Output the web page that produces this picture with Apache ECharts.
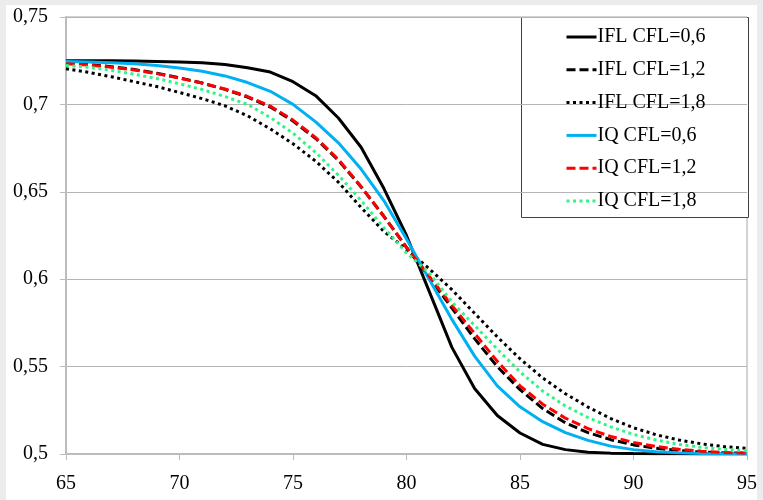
<!DOCTYPE html>
<html>
<head>
<meta charset="utf-8">
<script src="https://cdn.jsdelivr.net/npm/echarts@6/dist/echarts.min.js"></script>
<style>
  html, body { margin: 0; padding: 0; background: #ececec; }
  #frame { position: absolute; left: 6px; top: 5px; width: 751px; height: 495px; background: #fff; }
  #chart { position: absolute; left: 0; top: 0; width: 763px; height: 500px; }
</style>
</head>
<body>
<div id="frame"></div>
<div id="chart"></div>
<script>
// x positions 65..95
const xValues = [65, 66, 67, 68, 69, 70, 71, 72, 73, 74, 75, 76, 77, 78, 79, 80,
  81, 82, 83, 84, 85, 86, 87, 88, 89, 90, 91, 92, 93, 94, 95];

const iflCfl06 = [0.7250, 0.7250, 0.7249, 0.7248, 0.7246, 0.7243, 0.7238, 0.7228, 0.7210, 0.7185, 0.7130,
  0.7050, 0.6922, 0.6755, 0.6520, 0.6250, 0.5930, 0.5610, 0.5375, 0.5220, 0.5120, 0.5055,
  0.5025, 0.5010, 0.5005, 0.5003, 0.5002, 0.5001, 0.5000, 0.5000, 0.5000];

const iflCfl12 = [0.7235, 0.7228, 0.7216, 0.7200, 0.7178, 0.7152, 0.7122, 0.7086, 0.7042, 0.6985, 0.6905,
  0.6805, 0.6680, 0.6528, 0.6360, 0.6182, 0.6010, 0.5835, 0.5660, 0.5500, 0.5368, 0.5260,
  0.5178, 0.5122, 0.5082, 0.5052, 0.5033, 0.5020, 0.5011, 0.5006, 0.5004];

const iflCfl18 = [0.7204, 0.7183, 0.7158, 0.7130, 0.7102, 0.7068, 0.7033, 0.6992, 0.6935, 0.6860, 0.6775,
  0.6675, 0.6555, 0.6410, 0.6274, 0.6170, 0.6060, 0.5940, 0.5805, 0.5670, 0.5545, 0.5435,
  0.5345, 0.5268, 0.5203, 0.5150, 0.5110, 0.5080, 0.5058, 0.5042, 0.5032];

const iqCfl06 = [0.7245, 0.7243, 0.7238, 0.7232, 0.7223, 0.7208, 0.7190, 0.7163, 0.7125, 0.7075, 0.7000,
  0.6900, 0.6780, 0.6630, 0.6450, 0.6230, 0.6000, 0.5770, 0.5560, 0.5390, 0.5270, 0.5185,
  0.5122, 0.5078, 0.5045, 0.5025, 0.5013, 0.5007, 0.5003, 0.5001, 0.5000];

const iqCfl12 = [0.7232, 0.7225, 0.7213, 0.7197, 0.7176, 0.7150, 0.7122, 0.7088, 0.7045, 0.6990, 0.6910,
  0.6810, 0.6685, 0.6530, 0.6360, 0.6182, 0.6017, 0.5850, 0.5690, 0.5530, 0.5390, 0.5285,
  0.5205, 0.5145, 0.5100, 0.5066, 0.5043, 0.5027, 0.5016, 0.5009, 0.5005];

const iqCfl18 = [0.7223, 0.7212, 0.7195, 0.7173, 0.7148, 0.7118, 0.7085, 0.7045, 0.7000, 0.6925, 0.6835,
  0.6725, 0.6595, 0.6450, 0.6295, 0.6150, 0.6036, 0.5870, 0.5735, 0.5600, 0.5470, 0.5360,
  0.5275, 0.5208, 0.5155, 0.5112, 0.5080, 0.5055, 0.5038, 0.5026, 0.5019];

const seriesNames = ['IFL CFL=0,6', 'IFL CFL=1,2', 'IFL CFL=1,8', 'IQ CFL=0,6', 'IQ CFL=1,2', 'IQ CFL=1,8'];
const seriesValues = [iflCfl06, iflCfl12, iflCfl18, iqCfl06, iqCfl12, iqCfl18];
const seriesColors = ['#000000', '#000000', '#000000', '#00b0f0', '#ff0000', '#2ef584'];
const seriesDash = ['solid', [9, 4], [3, 3.5], 'solid', [9, 4], [3, 3.5]];

const font = 'Liberation Serif';

const chart = echarts.init(document.getElementById('chart'));

const option = {
  backgroundColor: 'transparent',
  animation: false,
  grid: {
    left: 66,
    right: 16,
    top: 17,
    bottom: 46,
    show: true,
    borderColor: '#a6a6a6',
    borderWidth: 1
  },
  xAxis: {
    type: 'value',
    min: 65,
    max: 95,
    interval: 5,
    axisLine: { show: true, lineStyle: { color: '#bcbcbc', width: 2 } },
    axisTick: { show: true, length: 6, lineStyle: { color: '#bcbcbc' } },
    axisLabel: { color: '#000', fontFamily: font, fontSize: 20, margin: 20 },
    splitLine: { show: false }
  },
  yAxis: {
    type: 'value',
    min: 0.5,
    max: 0.75,
    interval: 0.05,
    axisLine: { show: true, lineStyle: { color: '#bcbcbc', width: 2 } },
    axisTick: { show: true, length: 6, lineStyle: { color: '#bcbcbc' } },
    axisLabel: {
      color: '#000', fontFamily: font, fontSize: 20, margin: 18,
      formatter: v => String(+v.toFixed(2)).replace('.', ',')
    },
    splitLine: { show: true, lineStyle: { color: '#b4b4b4', width: 1 } }
  },
  legend: {
    orient: 'vertical',
    left: 565,
    top: 27,
    itemWidth: 30,
    itemHeight: 14,
    itemGap: 12.8,
    padding: 0,
    itemStyle: { opacity: 0 },
    lineStyle: { width: 3 },
    textStyle: { color: '#000', fontFamily: font, fontSize: 20, padding: [0, 0, 0, -4] },
    data: seriesNames
  },
  graphic: [{
    type: 'rect',
    left: 521,
    top: 17,
    shape: { width: 227, height: 200 },
    style: { fill: '#fff', stroke: '#404040', lineWidth: 1 },
    z: 0
  }],
  series: seriesNames.map((name, i) => ({
    name: name,
    type: 'line',
    data: xValues.map((x, j) => [x, seriesValues[i][j]]),
    showSymbol: false,
    symbol: 'none',
    smooth: false,
    color: seriesColors[i],
    lineStyle: { color: seriesColors[i], width: 3, type: seriesDash[i] },
    z: 2
  }))
};

chart.setOption(option);
</script>
</body>
</html>
